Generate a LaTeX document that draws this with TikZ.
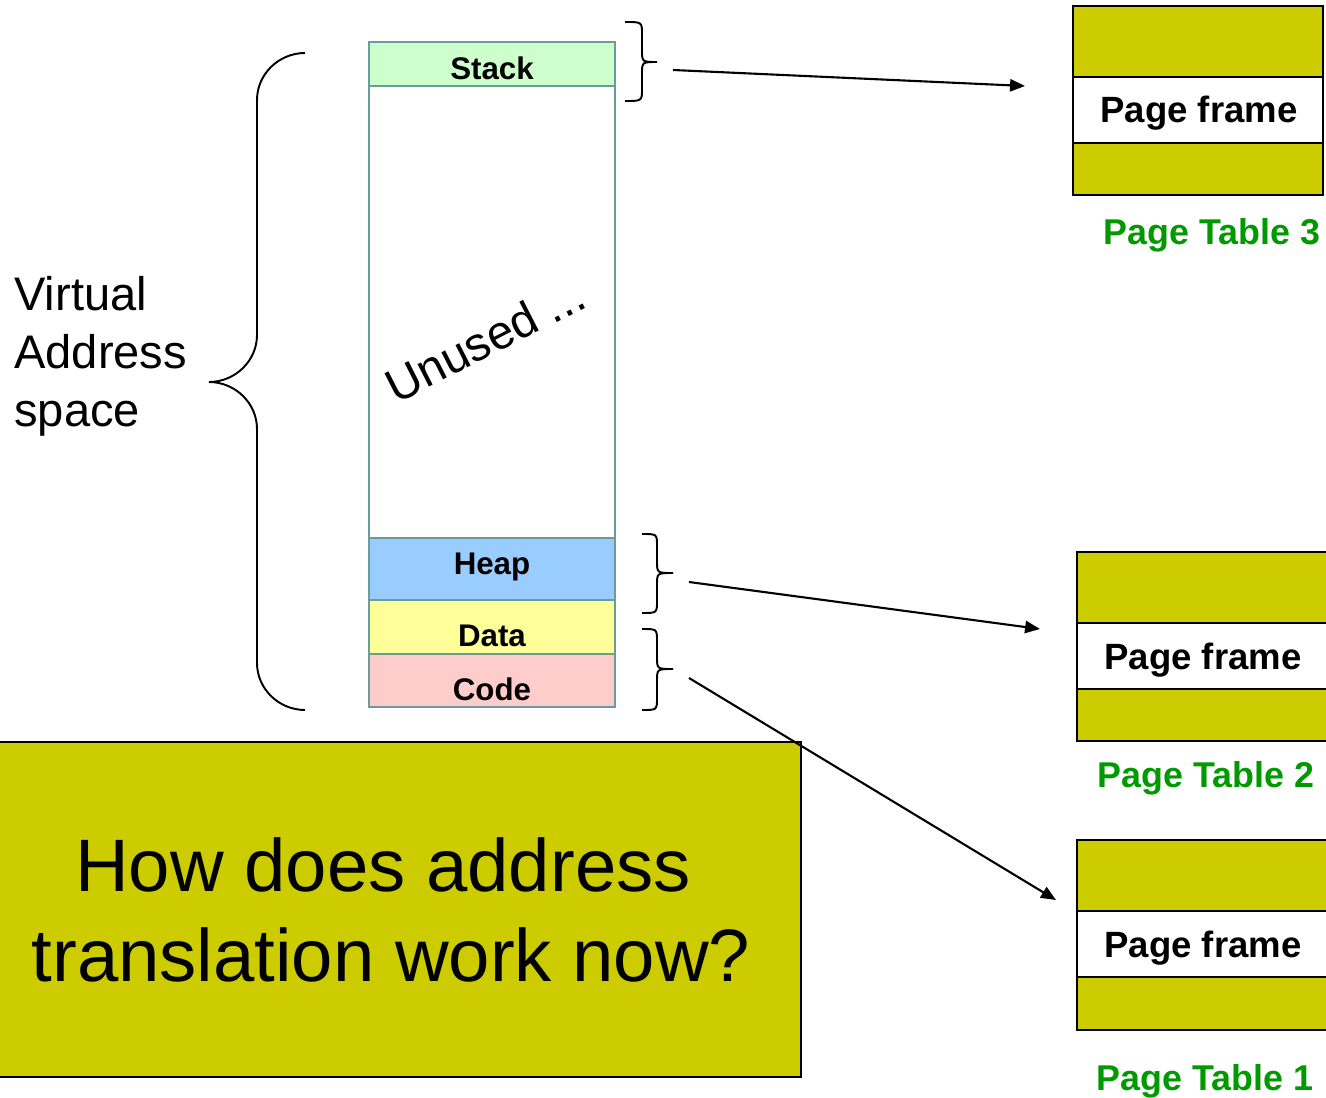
\documentclass[tikz,border=0pt]{standalone}
\usepackage{fontspec}
\setmainfont{Liberation Sans}
\usetikzlibrary{arrows.meta}
\definecolor{ptfill}{HTML}{CCCC00}
\definecolor{ptgreen}{HTML}{009900}
\definecolor{segline}{HTML}{6A9C9C}
\definecolor{stackc}{HTML}{CCFFCC}
\definecolor{heapc}{HTML}{99CCFF}
\definecolor{datac}{HTML}{FFFF99}
\definecolor{codec}{HTML}{FFCCCC}
\begin{document}
\begin{tikzpicture}[x=0.02cm,y=-0.02cm,
  seg/.style={draw=segline,line width=1.1pt},
  seglabel/.style={inner sep=0pt,font=\bfseries\fontsize{17.8}{20}\selectfont},
  band/.style={fill=ptfill,draw=black,line width=0.6pt},
  frame/.style={draw=black,line width=1.2pt},
  frametext/.style={inner sep=0pt,font=\bfseries\fontsize{20.8}{24}\selectfont},
  pttitle/.style={inner sep=0pt,text=ptgreen,font=\bfseries\fontsize{20.4}{24}\selectfont},
  bracel/.style={draw=black,line width=1.1pt},
  maparrow/.style={draw=black,line width=1.2pt,-{Triangle[length=8.5pt,width=7pt]}}]
\useasboundingbox (0,0) rectangle (1326,1098);
\clip (0,0) rectangle (1326,1098);

% virtual address space column
\filldraw[seg,fill=stackc] (369,42) rectangle (615,86);
\filldraw[seg,fill=white] (369,86) rectangle (615,538);
\filldraw[seg,fill=heapc] (369,538) rectangle (615,600);
\filldraw[seg,fill=datac] (369,600) rectangle (615,654);
\filldraw[seg,fill=codec] (369,654) rectangle (615,707);
\node[seglabel] (stk) at (492,68) {Stack};
\node[seglabel] (hp) at (492,567) {Heap};
\node[seglabel] (dat) at (492,636) {Data};
\node[seglabel] (cod) at (492,689) {Code};
\node[inner sep=0pt,rotate=27,font=\fontsize{27}{30}\selectfont] (unused) at (485,340) {Unused ...};

% left brace and its caption
\draw[bracel] (305,53) .. controls (279,53) and (257,74) .. (257,100) -- (257,335)
  .. controls (257,361) and (235,382) .. (209,382)
  .. controls (235,382) and (257,403) .. (257,429) -- (257,663)
  .. controls (257,689) and (279,710) .. (305,710);
\node[inner sep=0pt,anchor=west,align=left,font=\fontsize{26.8}{33}\selectfont] (vas) at (14,356) {Virtual\\Address\\space};

% braces grouping the segments
\draw[bracel] (625,22) .. controls (642,22) .. (642,34) -- (642,50)
  .. controls (642,62) .. (657,62) .. controls (642,62) .. (642,74) -- (642,89)
  .. controls (642,101) .. (625,101);
\draw[bracel] (642,534) .. controls (657,534) .. (657,546) -- (657,561)
  .. controls (657,573) .. (673,573) .. controls (657,573) .. (657,585) -- (657,601)
  .. controls (657,613) .. (642,613);
\draw[bracel] (642,629) .. controls (657,629) .. (657,641) -- (657,657)
  .. controls (657,669) .. (673,669) .. controls (657,669) .. (657,681) -- (657,698)
  .. controls (657,710) .. (642,710);

% page table 3
\filldraw[band] (1073,6) rectangle (1323,77);
\filldraw[band,fill=white] (1073,77) rectangle (1323,143);
\filldraw[band] (1073,143) rectangle (1323,195);
\draw[frame] (1073,6) rectangle (1323,195);
\node[frametext] (pf3) at (1199,113) {Page frame};
\node[pttitle] (pt3) at (1212,235) {Page Table 3};

% page table 2
\filldraw[band] (1077,552) rectangle (1340,623);
\filldraw[band,fill=white] (1077,623) rectangle (1340,689);
\filldraw[band] (1077,689) rectangle (1340,741);
\draw[frame] (1077,552) rectangle (1340,741);
\node[frametext] (pf2) at (1203,660) {Page frame};
\node[pttitle] (pt2) at (1206,778) {Page Table 2};

% page table 1
\filldraw[band] (1077,840) rectangle (1340,911);
\filldraw[band,fill=white] (1077,911) rectangle (1340,977);
\filldraw[band] (1077,977) rectangle (1340,1030);
\draw[frame] (1077,840) rectangle (1340,1030);
\node[frametext] (pf1) at (1203,948) {Page frame};
\node[pttitle] (pt1) at (1205,1081) {Page Table 1};

% question box
\filldraw[fill=ptfill,draw=black,line width=1.3pt] (-5,742) rectangle (801,1077);
\node[inner sep=0pt,align=center,font=\fontsize{42.3}{51}\selectfont] (q) at (391,910)
  {How does address\kern9pt\\translation work now?};

% mappings from segments to page tables
\coordinate (s3) at (673,70);   \coordinate (e3) at (1025,86);
\coordinate (s2) at (689,582);  \coordinate (e2) at (1040,629);
\coordinate (s1) at (689,678);  \coordinate (e1) at (1056,900);
\draw[maparrow] (s3) -- (e3);
\draw[maparrow] (s2) -- (e2);
\draw[maparrow] (s1) -- (e1);
\end{tikzpicture}
\end{document}
